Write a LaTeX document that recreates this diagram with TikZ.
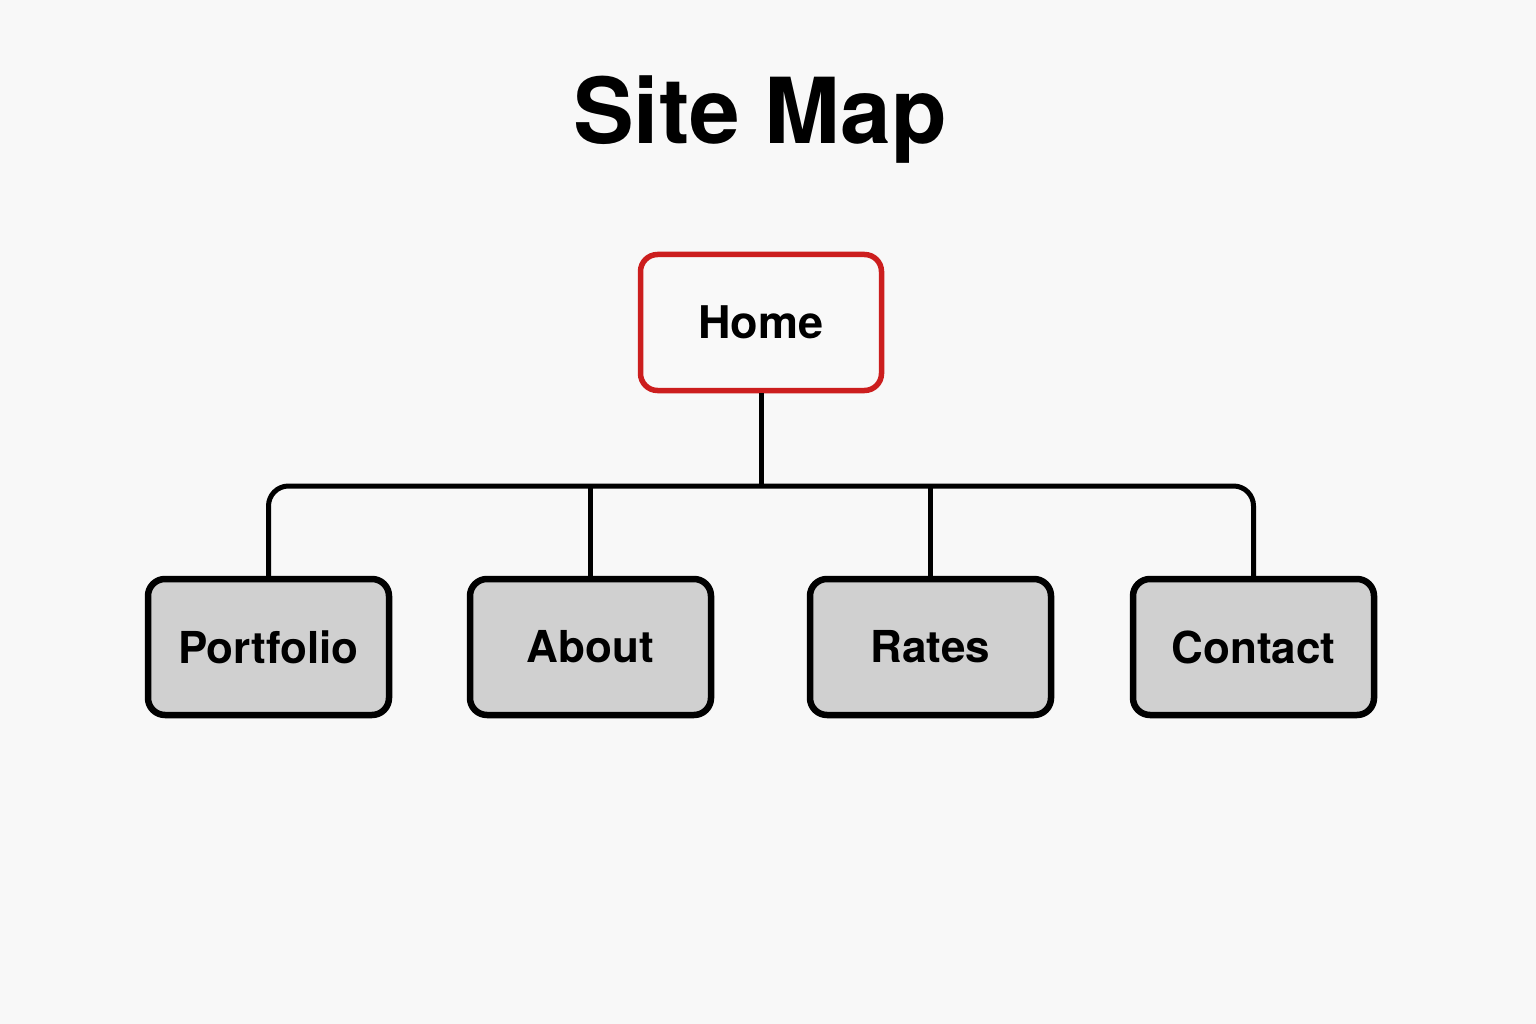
\documentclass[tikz,border=0pt]{standalone}
\usepackage{fontspec}
\setmainfont{TeX Gyre Heros}
\definecolor{pagebg}{HTML}{F8F8F8}
\definecolor{homered}{HTML}{CC1E1E}
\definecolor{pagegray}{HTML}{D0D0D0}
\definecolor{homefill}{HTML}{F9F9F9}
\begin{document}
\begin{tikzpicture}[x=1pt,y=-1pt,
  page/.style={draw, line width=6.5pt, rounded corners=17pt,
    minimum width=241pt, minimum height=136pt, inner sep=0pt,
    font=\fontsize{44}{48}\selectfont\bfseries},
  homebox/.style={page, draw=homered, fill=homefill, line width=5.5pt,
    font=\fontsize{45}{48}\selectfont\bfseries},
  childbox/.style={page, draw=black, fill=pagegray},
  conn/.style={draw=black, line width=5pt}]
  % canvas
  \fill[pagebg] (0,0) rectangle (1536,1024);
  \useasboundingbox (0,0) rectangle (1536,1024);

  % title
  \node[font=\fontsize{91}{100}\selectfont\bfseries] (title) at (760,120) {Site Map};

  % pages
  \node[homebox]  (home)      at (761,322.5) {Home};
  \node[childbox] (portfolio) at (268.5,647) {Portfolio};
  \node[childbox] (about)     at (590.5,647) {About};
  \node[childbox] (rates)     at (930.5,647) {Rates};
  \node[childbox] (contact)   at (1253.5,647) {Contact};

  % tree connectors
  \coordinate (bus) at (761,486);
  \draw[conn] (home.south) -- (bus);
  \draw[conn, rounded corners=20pt] (portfolio.north) |- (bus) -| (contact.north);
  \draw[conn] (about.north) -- (about.north |- bus);
  \draw[conn] (rates.north) -- (rates.north |- bus);
\end{tikzpicture}
\end{document}
